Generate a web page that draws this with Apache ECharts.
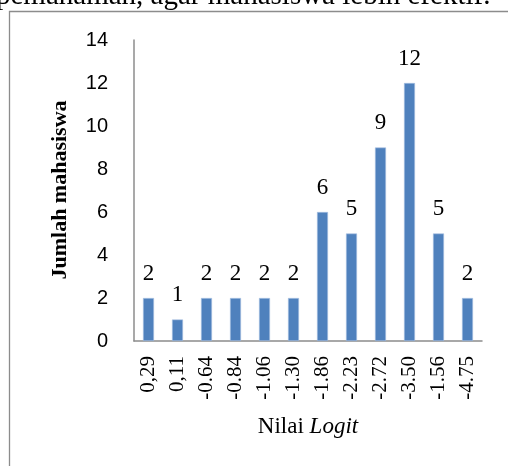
<!DOCTYPE html>
<html>
<head>
<meta charset="utf-8">
<script src="https://cdn.jsdelivr.net/npm/echarts@6/dist/echarts.min.js"></script>
<style>
html,body{margin:0;padding:0;background:#fff;}
#c{width:508px;height:466px;}
</style>
</head>
<body>
<div id="c"></div>
<script>
var categories = ['0,29','0,11','-0.64','-0.84','-1.06','-1.30','-1.86','-2.23','-2.72','-3.50','-1.56','-4.75'];
var values = [2, 1, 2, 2, 2, 2, 6, 5, 9, 12, 5, 2];
var yTicks = {min: 0, max: 14, interval: 2};
var yAxisTitle = 'Jumlah mahasiswa';
var xAxisTitle = 'Nilai ';
var xAxisTitleItalic = 'Logit';
var topText = 'pemahaman, agar mahasiswa lebih efektif.';

var serif = '"Liberation Serif", "DejaVu Serif", serif';
var chart = echarts.init(document.getElementById('c'));
chart.setOption({
  animation: false,
  backgroundColor: '#fff',
  grid: {left: 134, top: 40, right: 26, bottom: 125, containLabel: false},
  graphic: [
    {type: 'rect', shape: {x: 9.5, y: 11.5, width: 520, height: 470}, style: {fill: 'none', stroke: '#8c8c8c', lineWidth: 1.3}, silent: true},
    {type: 'text', x: -4, y: -4, style: {text: topText, fontFamily: serif, fontSize: 29, fill: '#000', verticalAlign: 'middle'}},
    {type: 'text', x: 60, y: 190, rotation: Math.PI / 2, style: {text: yAxisTitle, fontFamily: serif, fontWeight: 'bold', fontSize: 22, fill: '#000', align: 'center', verticalAlign: 'middle'}},
    {type: 'text', x: 308, y: 427, style: {align: 'center', verticalAlign: 'middle', rich: {n: {fontFamily: serif, fontSize: 23, fill: '#000'}, i: {fontFamily: serif, fontStyle: 'italic', fontSize: 23, fill: '#000'}}, text: '{n|' + xAxisTitle + '}{i|' + xAxisTitleItalic + '}'}}
  ],
  xAxis: {
    type: 'category',
    data: categories,
    axisLine: {lineStyle: {color: '#8c8c8c', width: 1.5}},
    axisTick: {show: false},
    axisLabel: {rotate: 90, margin: 15, color: '#000', fontFamily: serif, fontSize: 21, interval: 0}
  },
  yAxis: {
    type: 'value',
    min: yTicks.min, max: yTicks.max, interval: yTicks.interval,
    splitLine: {show: false},
    axisLine: {show: true, lineStyle: {color: '#8c8c8c', width: 1.5}},
    axisTick: {show: false},
    axisLabel: {margin: 26, color: '#000', fontFamily: '"Liberation Sans", sans-serif', fontSize: 20}
  },
  series: [{
    type: 'bar',
    data: values,
    barWidth: 11,
    itemStyle: {color: '#4f81bd', borderColor: '#a9c1e3', borderWidth: 0.6},
    label: {show: true, position: 'top', distance: 13, color: '#000', fontFamily: serif, fontSize: 23}
  }]
});
</script>
</body>
</html>
